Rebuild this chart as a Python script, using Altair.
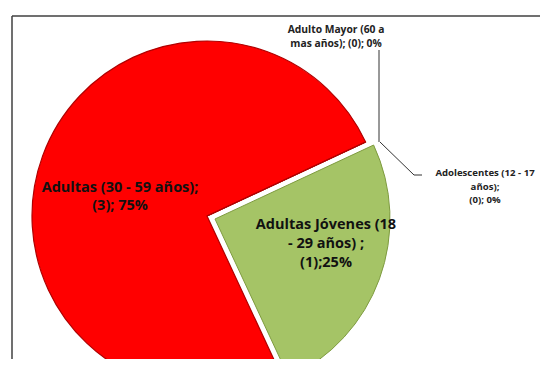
import math
import altair as alt
import pandas as pd

# ---- data ----
categories = [
    "Adolescentes (12 - 17 años)",
    "Adultas Jóvenes (18 - 29 años)",
    "Adultas (30 - 59 años)",
    "Adulto Mayor (60 a mas años)",
]
values = [0, 1, 3, 0]
order = [0, 1, 2, 3]
colors = ["#4F81BD", "#A5C466", "#FF0000", "#8064A2"]
exploded = [False, True, False, False]

label_lines = {
    "Adolescentes (12 - 17 años)": ["Adolescentes  (12 - 17", "años);", "(0); 0%"],
    "Adultas Jóvenes (18 - 29 años)": ["Adultas Jóvenes (18", "- 29 años) ;", "(1);25%"],
    "Adultas (30 - 59 años)": ["Adultas (30 - 59 años);", "(3); 75%"],
    "Adulto Mayor (60 a mas años)": ["Adulto Mayor (60 a", "mas años); (0); 0%"],
}

# ---- layout ----
W, H = 532, 351
R = 175
CX, CY = 199, 208
EX, EY = 8, 3
FONT = "Open Sans"

df = pd.DataFrame({"cat": categories, "value": values, "order": order,
                   "exploded": exploded})

a0 = math.radians(65)
theta_scale = alt.Scale(domain=[0, sum(values)], range=[a0, a0 + 2 * math.pi])
color_scale = alt.Scale(domain=categories, range=colors)

base = alt.Chart(df).transform_window(
    end="sum(value)", sort=[alt.SortField("order")], frame=[None, 0]
).transform_calculate(start="datum.end - datum.value")


def pie(filt, cx, cy, **kw):
    return base.transform_filter(filt).mark_arc(radius=R, **kw).encode(
        theta=alt.Theta("start:Q", scale=theta_scale, stack=None),
        theta2="end:Q",
        color=alt.Color("cat:N", scale=color_scale, legend=None),
        x=alt.value(cx),
        y=alt.value(cy),
    )


red = pie("!datum.exploded", CX, CY, stroke="#B00000", strokeWidth=1.2)
green_gap = pie("datum.exploded", CX + EX, CY + EY, stroke="white", strokeWidth=6)
green = pie("datum.exploded", CX + EX, CY + EY, stroke="#7E9B3F", strokeWidth=1)

one = pd.DataFrame({"a": [0]})
frame_color = "#404040"
frame_left = alt.Chart(one).mark_rule(color=frame_color, strokeWidth=1.5).encode(
    x=alt.value(4), y=alt.value(8), y2=alt.value(H + 20))
frame_top = alt.Chart(one).mark_rule(color=frame_color, strokeWidth=1.5).encode(
    x=alt.value(4), x2=alt.value(W + 20), y=alt.value(8))

lead_col = "#333333"
lead1 = alt.Chart(one).mark_rule(color=lead_col, strokeWidth=1).encode(
    x=alt.value(371), y=alt.value(42), y2=alt.value(134))
lead2 = alt.Chart(one).mark_rule(color=lead_col, strokeWidth=1).encode(
    x=alt.value(372), y=alt.value(134), x2=alt.value(406), y2=alt.value(167))
lead3 = alt.Chart(one).mark_rule(color=lead_col, strokeWidth=1).encode(
    x=alt.value(406), y=alt.value(167), x2=alt.value(414), y2=alt.value(167))


def label(cat, x, y, size, lh, color="#111111"):
    return alt.Chart(one).mark_text(
        text=label_lines[cat], font=FONT, fontWeight="bold", fontSize=size,
        lineHeight=lh, align="center", baseline="alphabetic", color=color,
    ).encode(x=alt.value(x), y=alt.value(y))


labels = [
    label(categories[3], 328, 25, 10.3, 14, "#222222"),
    label(categories[0], 477, 168, 9.6, 13.5, "#222222"),
    label(categories[2], 112, 184, 14.5, 18),
    label(categories[1], 318, 221, 14.5, 19),
]

chart = alt.layer(
    red, green_gap, green, frame_left, frame_top, lead1, lead2, lead3, *labels
).properties(
    width=W, height=H, autosize=alt.AutoSizeParams(type="none"),
    padding=0,
).configure_view(stroke=None)

chart.save("out.html", embed_options={"renderer": "svg", "actions": False})
